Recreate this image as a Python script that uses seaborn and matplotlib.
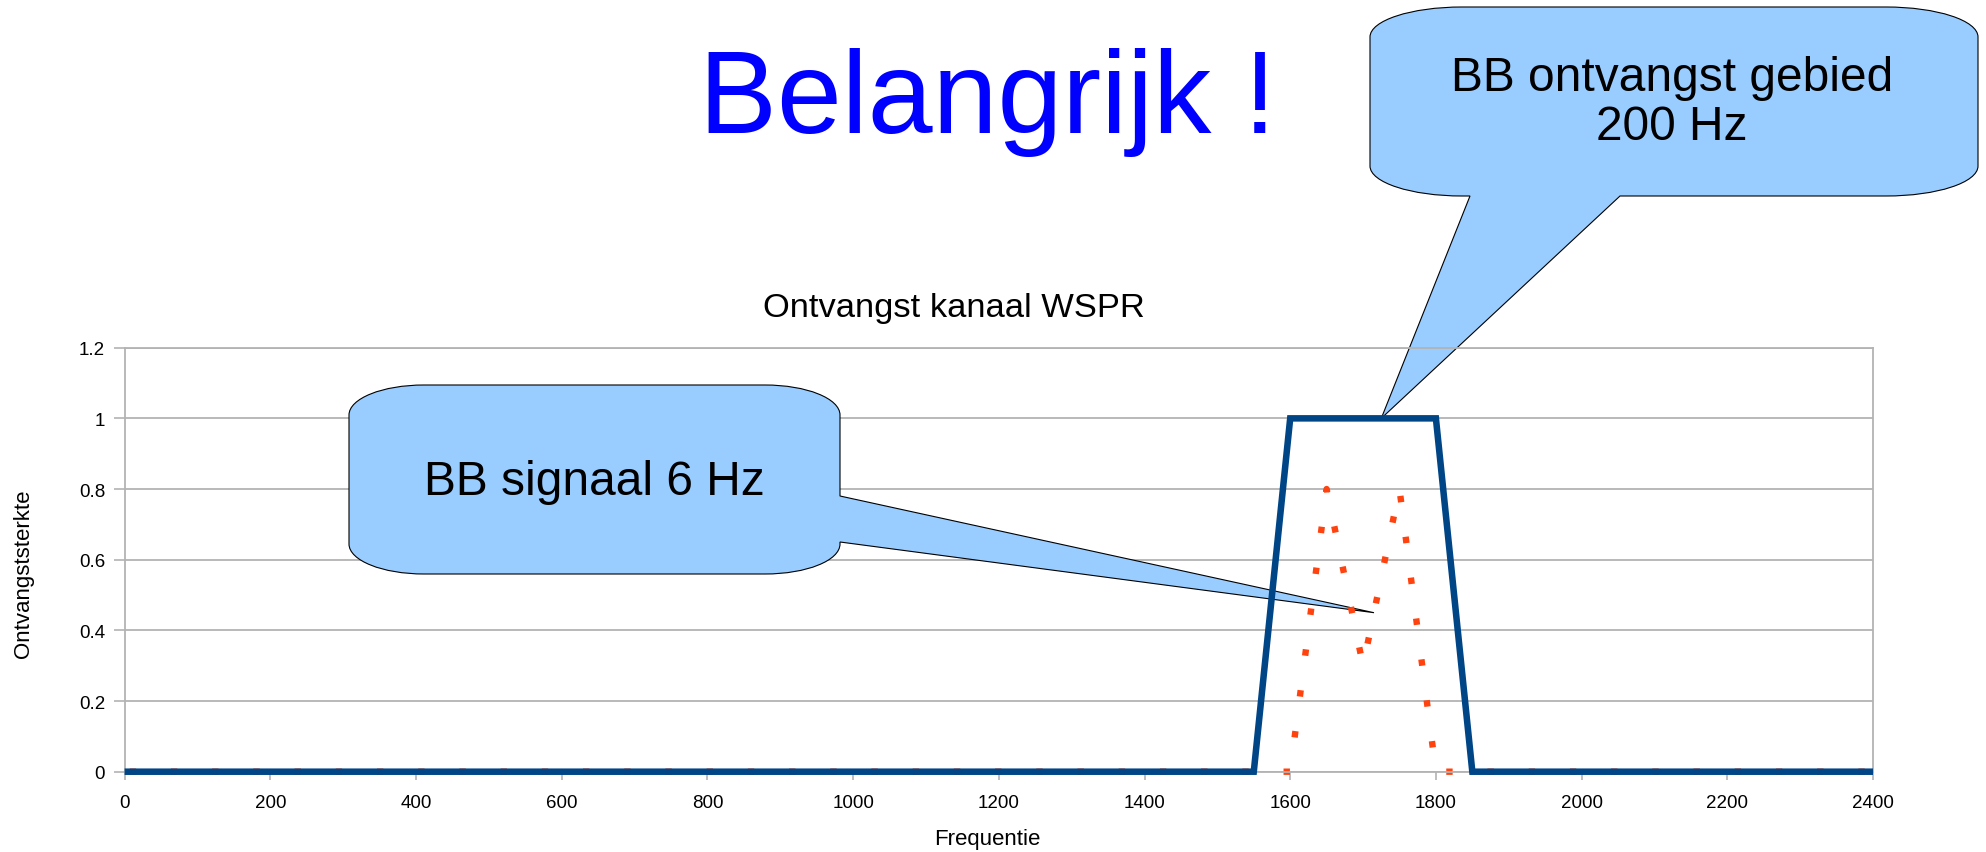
import numpy as np
import pandas as pd
import seaborn as sns
import matplotlib
matplotlib.use("Agg")
import matplotlib.pyplot as plt
from matplotlib.path import Path
from matplotlib.patches import PathPatch
from matplotlib.ticker import FuncFormatter

# series (break points of the polylines)
bb_freq = [0, 1550, 1600, 1800, 1850, 2400]
bb_level = [0, 0, 1, 1, 0, 0]
sig_freq = [0, 1600, 1650, 1700, 1750, 1800, 2400]
sig_level = [0, 0, 0.8, 0.3, 0.8, 0, 0]

x_ticks = list(range(0, 2401, 200))
y_ticks = [0, 0.2, 0.4, 0.6, 0.8, 1.0, 1.2]

title = "Ontvangst kanaal WSPR"
headline = "Belangrijk !"
note_band = "BB ontvangst gebied\n200 Hz"
note_signal = "BB signaal 6 Hz"

sns.set_style("white")
plt.rcParams['font.family'] = ['Liberation Sans', 'DejaVu Sans']
plt.rcParams['text.color'] = 'black'
plt.rcParams['axes.labelcolor'] = 'black'

W, H = 1986, 853
fig = plt.figure(figsize=(W / 100, H / 100), dpi=100)
ax = fig.add_axes([124.6 / W, 80.3 / H, 1748.4 / W, 424.0 / H])
ax.set_xlim(0, 2400)
ax.set_ylim(0, 1.2)

grey = "#b3b3b3"
band = pd.DataFrame({"freq": bb_freq, "level": bb_level})
sig = pd.DataFrame({"freq": sig_freq, "level": sig_level})

sns.lineplot(data=sig, x="freq", y="level", color="#ff420e", linewidth=4.6,
             ax=ax, zorder=2, clip_on=False)
dots = ax.lines[-1]
# square dots, phase chosen so a dot sits on the first peak
lw_px = 4.6 * 100 / 72
pattern = (1, 5.45)
period = sum(pattern) * lw_px
pts = ax.transData.transform(np.column_stack([sig_freq[:3], sig_level[:3]]))
seg = np.hypot(*np.diff(pts, axis=0).T).sum()
start = seg - lw_px / 2
off_px = np.ceil(start / period) * period - start
dots.set_linestyle((off_px / lw_px, pattern))
dots.set_dash_capstyle("butt")

sns.lineplot(data=band, x="freq", y="level", color="#004586", linewidth=4.7,
             ax=ax, zorder=3, clip_on=False, solid_joinstyle="miter",
             solid_capstyle="butt")

ax.set_xlim(0, 2400)
ax.set_ylim(0, 1.2)
ax.set_xticks(x_ticks)
ax.set_yticks(y_ticks)
ax.yaxis.set_major_formatter(FuncFormatter(lambda v, p: f"{v:g}"))
ax.grid(axis="y", color=grey, linewidth=1.3)
ax.set_axisbelow(True)
for s in ax.spines.values():
    s.set_color(grey)
    s.set_linewidth(1.3)
ax.tick_params(axis="x", length=6, width=1.2, color=grey, pad=10,
               labelsize=13.5, labelcolor="black", bottom=True)
ax.tick_params(axis="y", length=8, width=1.2, color=grey, pad=6,
               labelsize=13.5, labelcolor="black", left=True)

ax.set_xlabel("Frequentie", fontsize=16, va="center")
ax.xaxis.set_label_coords(0.4932, -0.1587)
ax.set_ylabel("Ontvangststerkte", fontsize=16, va="center")
ax.yaxis.set_label_coords(-0.0581, 0.4686)


def to_fig(x, y):
    return x / W, 1 - y / H


def tip_px(xd, yd):
    dx, dy = ax.transData.transform((xd, yd))
    return dx, H - dy


def callout(box, rx, ry, side, base, tip):
    x0, y0, x1, y1 = box
    k = 0.5523
    v, c = [], []

    def add(pts, code):
        for p in pts:
            v.append(p)
            c.append(code)

    add([(x0 + rx, y0)], Path.MOVETO)
    add([(x1 - rx, y0)], Path.LINETO)
    add([(x1 - rx + k * rx, y0), (x1, y0 + ry - k * ry), (x1, y0 + ry)], Path.CURVE4)
    if side == "right":
        add([(x1, base[0]), tip, (x1, base[1])], Path.LINETO)
    add([(x1, y1 - ry)], Path.LINETO)
    add([(x1, y1 - ry + k * ry), (x1 - rx + k * rx, y1), (x1 - rx, y1)], Path.CURVE4)
    if side == "bottom":
        add([(base[0], y1), tip, (base[1], y1)], Path.LINETO)
    add([(x0 + rx, y1)], Path.LINETO)
    add([(x0 + rx - k * rx, y1), (x0, y1 - ry + k * ry), (x0, y1 - ry)], Path.CURVE4)
    add([(x0, y0 + ry)], Path.LINETO)
    add([(x0, y0 + ry - k * ry), (x0 + rx - k * rx, y0), (x0 + rx, y0)], Path.CURVE4)
    add([(x0 + rx, y0)], Path.CLOSEPOLY)
    path = Path([to_fig(*p) for p in v], c)
    patch = PathPatch(path, facecolor="#99ccff", edgecolor="black", linewidth=0.8,
                      transform=fig.transFigure, clip_on=False, zorder=1.5)
    ax.add_patch(patch)


callout((1370, 8, 1978, 197), 92, 30, "bottom", (1620, 1470), tip_px(1725, 1.0))
callout((349, 386, 840, 575), 75, 30, "right", (497, 543), tip_px(1715, 0.45))

fig.text(*to_fig(1672, 103), note_band, fontsize=34.5, ha="center", va="center",
         linespacing=1.12)
fig.text(*to_fig(594, 483), note_signal, fontsize=34.5, ha="center", va="center")
fig.text(*to_fig(988, 133), headline, fontsize=84, color="#0000ff",
         ha="center", va="baseline")
fig.text(*to_fig(954, 308), title, fontsize=24.8, ha="center", va="center")

fig.savefig("out.png", dpi=100, facecolor="white")
